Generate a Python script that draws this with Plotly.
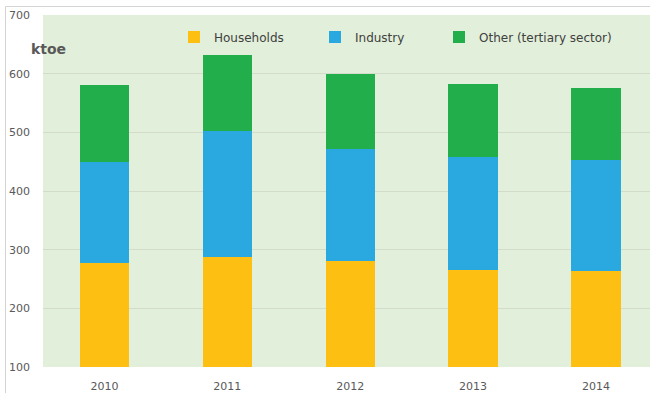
import plotly.graph_objects as go

# Final energy consumption by sector (ktoe)
years = ["2010", "2011", "2012", "2013", "2014"]
households = [278, 288, 281, 265, 263]
industry = [172, 214, 190, 193, 190]
other = [131, 130, 128, 124, 123]

series_names = ["Households", "Industry", "Other (tertiary sector)"]
series_colors = ["#FCBF12", "#2AA9E0", "#22AF4B"]
legend_ids = ["legend", "legend2", "legend3"]

W, H = 650, 393
ML, MT, MB = 43, 15, 26
PW, PH = W - ML, H - MT - MB

fig = go.Figure()
for vals, name, color, lg in zip([households, industry, other], series_names, series_colors, legend_ids):
    fig.add_trace(go.Bar(
        x=years, y=vals, name=name, width=0.4,
        marker=dict(color=color, line=dict(width=0)),
        legend=lg,
    ))

legend_font = dict(family="DejaVu Sans", size=12, color="#404040")
legend_x = [174, 315, 439]


def px_x(px):
    return (px - ML) / PW


def px_y(py):
    return (H - MB - py) / PH


def legend_box(px):
    return dict(
        x=px_x(px), xref="paper", xanchor="left",
        y=px_y(37), yref="paper", yanchor="middle",
        orientation="h", bgcolor="rgba(0,0,0,0)", font=legend_font,
        itemwidth=30, borderwidth=0,
    )


fig.update_layout(
    width=W, height=H,
    margin=dict(l=ML, r=0, t=MT, b=MB, autoexpand=False),
    barmode="stack",
    paper_bgcolor="white",
    plot_bgcolor="#E2EFDA",
    font=dict(family="DejaVu Sans", size=11, color="#595959"),
    showlegend=True,
    legend=legend_box(legend_x[0]),
    legend2=legend_box(legend_x[1]),
    legend3=legend_box(legend_x[2]),
    xaxis=dict(
        type="category", range=[-0.5, 4.44], showgrid=False,
        showline=False, zeroline=False, ticks="",
        tickfont=dict(size=11, color="#595959"),
        ticklabelstandoff=11,
    ),
    yaxis=dict(
        range=[100, 700], dtick=100, tick0=100,
        showgrid=True, gridcolor="#D3DCCB", gridwidth=1,
        zeroline=False, showline=False, ticks="",
        tickfont=dict(size=11, color="#595959"),
        ticklabelstandoff=12,
    ),
    annotations=[dict(
        text="<b>ktoe</b>", xref="paper", yref="paper",
        x=px_x(29), y=px_y(49), xanchor="left", yanchor="middle",
        showarrow=False, font=dict(family="DejaVu Sans", size=14, color="#595959"),
    )],
    shapes=[
        # thin frame around the chart area
        dict(type="line", xref="paper", yref="paper", layer="above",
             x0=px_x(5.5), x1=1.1, y0=px_y(6.5), y1=px_y(6.5),
             line=dict(color="#D4D4D4", width=1)),
        dict(type="line", xref="paper", yref="paper", layer="above",
             x0=px_x(5.5), x1=px_x(5.5), y0=-0.2, y1=px_y(6.5),
             line=dict(color="#D4D4D4", width=1)),
    ],
)

fig.write_html("out.html")
